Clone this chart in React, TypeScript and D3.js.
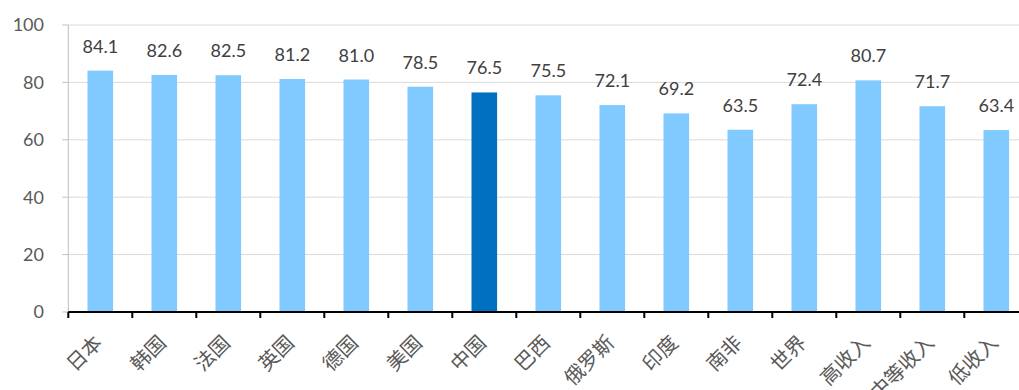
import React from "react";
import * as d3 from "d3";

const categories = ["日本", "韩国", "法国", "英国", "德国", "美国", "中国", "巴西", "俄罗斯", "印度", "南非", "世界", "高收入", "中等收入", "低收入"];
const values = [84.1, 82.6, 82.5, 81.2, 81.0, 78.5, 76.5, 75.5, 72.1, 69.2, 63.5, 72.4, 80.7, 71.7, 63.4];
const highlight = "中国";
const yTicks = [0, 20, 40, 60, 80, 100];

const W = 1019;
const H = 390;
const left = 68.3;
const bandW = 64;
const top = 25;
const bottom = 312;

export default function App() {
  const x = d3.scaleBand<string>().domain(categories).range([left, left + bandW * categories.length]).paddingInner(0.6).paddingOuter(0.3);
  const y = d3.scaleLinear().domain([0, 100]).range([bottom, top]);
  const bw = x.bandwidth();
  const step = x.step();
  const numFont = "Lato, 'Open Sans', sans-serif";
  const cjkFont = "'Noto Sans CJK SC', sans-serif";
  return (
    <svg width={W} height={H} style={{ position: "absolute", left: 0, top: 0, background: "#fff" }}>
      {yTicks.map((t) => (
        <g key={t}>
          {t > 0 && <line x1={left} x2={W} y1={y(t)} y2={y(t)} stroke="#d9d9d9" strokeWidth={1} />}
          <line x1={left - 6} x2={left} y1={y(t)} y2={y(t)} stroke="#bfbfbf" strokeWidth={1} />
          <text x={44} y={y(t)} dy="0.35em" textAnchor="end" fontSize={18} fill="#595959" fontFamily={numFont}>{t}</text>
        </g>
      ))}
      <line x1={left} x2={left} y1={y(100)} y2={bottom} stroke="#bfbfbf" strokeWidth={1} />
      {categories.map((c, i) => (
        <g key={c}>
          <rect x={x(c)!} y={y(values[i])} width={bw} height={bottom - y(values[i])} fill={c === highlight ? "#0070c0" : "#80caff"} />
          <text x={x(c)! + bw / 2} y={y(values[i]) - 18} textAnchor="middle" fontSize={18} fill="#404040" fontFamily={numFont}>{values[i].toFixed(1)}</text>
          <text transform={`translate(${x(c)! + bw / 2 + 3},${bottom + 32}) rotate(-45)`} textAnchor="end" fontSize={20} fill="#595959" fontFamily={cjkFont}>{c}</text>
        </g>
      ))}
      <line x1={left} x2={left + step * categories.length} y1={bottom} y2={bottom} stroke="#000" strokeWidth={2} />
      {d3.range(categories.length + 1).map((k) => (
        <line key={k} x1={left + k * step} x2={left + k * step} y1={bottom} y2={bottom + 6} stroke="#000" strokeWidth={2} />
      ))}
    </svg>
  );
}
